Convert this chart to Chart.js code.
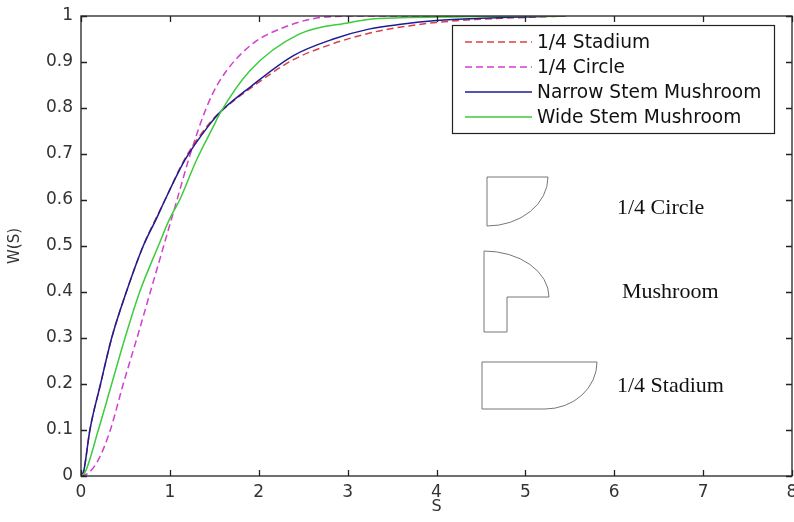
<!DOCTYPE html>
<html>
<head>
<meta charset="utf-8">
<script src="https://cdn.jsdelivr.net/npm/chart.js@4"></script>
<style>
  html, body { margin: 0; padding: 0; background: #fff; }
  #wrap { width: 794px; height: 522px; }
</style>
</head>
<body>
<div id="wrap"><canvas id="graph" width="794" height="522"></canvas></div>
<script>
// === DATA === //

const xTickValues = [0, 1, 2, 3, 4, 5, 6, 7, 8]
const xTickLabels = ["0", "1", "2", "3", "4", "5", "6", "7", "8"]
const yTickValues = [0, 0.1, 0.2, 0.3, 0.4, 0.5, 0.6, 0.7, 0.8, 0.9, 1]
const yTickLabels = ["0", "0.1", "0.2", "0.3", "0.4", "0.5", "0.6", "0.7", "0.8", "0.9", "1"]

const seriesNames = ["1/4 Stadium", "1/4 Circle", "Narrow Stem Mushroom", "Wide Stem Mushroom"]

const stadiumS = [0, 0.03, 0.10, 0.22, 0.345, 0.51, 0.70, 0.945, 1.17, 1.45, 1.56, 1.90, 2.39, 2.84, 3.25, 3.6, 4.0, 4.5, 5.0, 5.45]
const stadiumW = [0, 0.01, 0.10, 0.20, 0.30, 0.40, 0.50, 0.60, 0.69, 0.768, 0.79, 0.842, 0.905, 0.94, 0.963, 0.976, 0.986, 0.993, 0.997, 1.0]

const circleS = [0, 0.08, 0.195, 0.33, 0.475, 0.63, 0.78, 0.93, 1.08, 1.23, 1.41, 1.56, 1.90, 2.28, 2.76, 3.2, 4.3, 5.45]
const circleW = [0, 0.006, 0.035, 0.10, 0.20, 0.30, 0.40, 0.50, 0.60, 0.70, 0.80, 0.859, 0.935, 0.975, 0.998, 1.0, 1.0, 1.0]

const narrowS = [0, 0.03, 0.10, 0.22, 0.345, 0.51, 0.70, 0.85, 0.945, 1.17, 1.45, 1.56, 1.90, 2.39, 2.84, 3.25, 3.6, 4.0, 4.5, 5.0, 5.45]
const narrowW = [0, 0.01, 0.10, 0.20, 0.30, 0.40, 0.50, 0.56, 0.60, 0.687, 0.765, 0.79, 0.845, 0.914, 0.95, 0.972, 0.982, 0.99, 0.995, 0.998, 1.0]

const wideS = [0, 0.05, 0.195, 0.345, 0.495, 0.66, 0.87, 1.0, 1.11, 1.30, 1.49, 1.56, 1.90, 2.46, 3.03, 3.25, 3.6, 4.2, 5.0, 5.45]
const wideW = [0, 0.01, 0.10, 0.20, 0.30, 0.40, 0.50, 0.56, 0.60, 0.687, 0.76, 0.787, 0.881, 0.961, 0.986, 0.993, 0.996, 0.998, 1.0, 1.0]

// inset shape captions
const shapeLabels = ["1/4 Circle", "Mushroom", "1/4 Stadium"]

// === CHART === //

const colors = ["#d8404c", "#d040d0", "#1c1c90", "#3ccc3c"]
const dashes = [[7, 4], [7, 4], [], []]
const sansFamily = '"DejaVu Sans", Verdana, sans-serif'

function toPoints(xs, ys) {
  return xs.map((x, i) => ({ x: x, y: ys[i] }))
}

const seriesData = [
  toPoints(stadiumS, stadiumW),
  toPoints(circleS, circleW),
  toPoints(narrowS, narrowW),
  toPoints(wideS, wideW)
]

// draw order: green and blue under the dashed ones
const drawOrder = [3, 2, 0, 1]

const datasets = drawOrder.map(i => ({
  label: seriesNames[i],
  data: seriesData[i],
  showLine: true,
  borderColor: colors[i],
  borderWidth: 1.5,
  borderDash: dashes[i],
  pointRadius: 0,
  cubicInterpolationMode: 'monotone',
  fill: false
}))

// box, inward ticks, legend and the little shape drawings
const extrasPlugin = {
  id: 'extras',
  afterDraw(chart) {
    const ctx = chart.ctx
    const a = chart.chartArea
    const xs = chart.scales.x
    const ys = chart.scales.y
    ctx.save()
    ctx.strokeStyle = '#222'
    ctx.lineWidth = 1.3
    ctx.strokeRect(a.left, a.top, a.right - a.left, a.bottom - a.top)
    ctx.beginPath()
    xTickValues.forEach(v => {
      const px = Math.round(xs.getPixelForValue(v)) + 0.5
      ctx.moveTo(px, a.bottom); ctx.lineTo(px, a.bottom - 6)
      ctx.moveTo(px, a.top); ctx.lineTo(px, a.top + 6)
    })
    yTickValues.forEach(v => {
      const py = Math.round(ys.getPixelForValue(v)) + 0.5
      ctx.moveTo(a.left, py); ctx.lineTo(a.left + 6, py)
      ctx.moveTo(a.right, py); ctx.lineTo(a.right - 6, py)
    })
    ctx.stroke()

    // legend
    const lx = 452, ly = 25, lw = 322, lh = 108
    ctx.fillStyle = '#fff'
    ctx.fillRect(lx, ly, lw, lh)
    ctx.strokeStyle = '#222'
    ctx.lineWidth = 1.2
    ctx.strokeRect(lx + 0.5, ly + 0.5, lw, lh)
    ctx.font = '18.6px ' + sansFamily
    ctx.textBaseline = 'middle'
    ctx.textAlign = 'left'
    seriesNames.forEach((name, i) => {
      const y = ly + 17 + i * 25
      ctx.beginPath()
      ctx.setLineDash(dashes[i])
      ctx.strokeStyle = colors[i]
      ctx.lineWidth = 1.5
      ctx.moveTo(465, y); ctx.lineTo(532, y)
      ctx.stroke()
      ctx.setLineDash([])
      ctx.fillStyle = '#111'
      ctx.fillText(name, 537, y + 1)
    })

    // shape sketches
    ctx.strokeStyle = '#777'
    ctx.lineWidth = 1
    ctx.beginPath()
    ctx.moveTo(487, 226); ctx.lineTo(487, 177); ctx.lineTo(548, 177)
    ctx.ellipse(487, 177, 61, 49, 0, 0, Math.PI / 2, false)
    ctx.stroke()

    ctx.beginPath()
    ctx.moveTo(484, 251); ctx.lineTo(484, 332); ctx.lineTo(507, 332); ctx.lineTo(507, 297); ctx.lineTo(549, 297)
    ctx.ellipse(484, 297, 65, 46, 0, 0, -Math.PI / 2, true)
    ctx.stroke()

    ctx.beginPath()
    ctx.moveTo(545, 409); ctx.lineTo(482, 409); ctx.lineTo(482, 362); ctx.lineTo(597, 362)
    ctx.ellipse(545, 362, 52, 47, 0, 0, Math.PI / 2, false)
    ctx.stroke()

    ctx.fillStyle = '#111'
    ctx.font = '22px "Liberation Serif", "Times New Roman", serif'
    ctx.fillText(shapeLabels[0], 617, 208)
    ctx.fillText(shapeLabels[1], 622, 292)
    ctx.fillText(shapeLabels[2], 617, 386)
    ctx.restore()
  }
}

const tickFont = { family: sansFamily, size: 17 }

const config = {
  type: 'scatter',
  data: { datasets },
  options: {
    responsive: false,
    animation: false,
    layout: { padding: { left: 0, right: 2, top: 16, bottom: 0 } },
    plugins: { legend: { display: false }, tooltip: { enabled: false } },
    scales: {
      x: {
        type: 'linear',
        min: 0,
        max: 8,
        afterBuildTicks: scale => { scale.ticks = xTickValues.map(v => ({ value: v })) },
        afterFit: scale => {
          scale.height = 46
          scale.paddingLeft = 0
          scale.paddingRight = 0
        },
        ticks: {
          color: '#333',
          font: tickFont,
          padding: 6,
          maxRotation: 0,
          callback: (v, i) => xTickLabels[i]
        },
        grid: { display: false, drawTicks: false },
        border: { display: false },
        title: { display: true, text: 'S', color: '#333', font: { family: sansFamily, size: 16 }, padding: { top: 0, bottom: 6 } }
      },
      y: {
        type: 'linear',
        min: 0,
        max: 1,
        afterBuildTicks: scale => { scale.ticks = yTickValues.map(v => ({ value: v })) },
        afterFit: scale => {
          scale.width = 81
          scale.paddingTop = 0
          scale.paddingBottom = 0
        },
        ticks: {
          color: '#333',
          font: tickFont,
          padding: 8,
          callback: (v, i) => yTickLabels[i]
        },
        grid: { display: false, drawTicks: false },
        border: { display: false },
        title: { display: true, text: 'W(S)', color: '#333', font: { family: sansFamily, size: 15 }, padding: { top: 6, bottom: 0 } }
      }
    }
  },
  plugins: [extrasPlugin]
}

const myChart = new Chart(document.getElementById('graph'), config)
</script>
</body>
</html>
